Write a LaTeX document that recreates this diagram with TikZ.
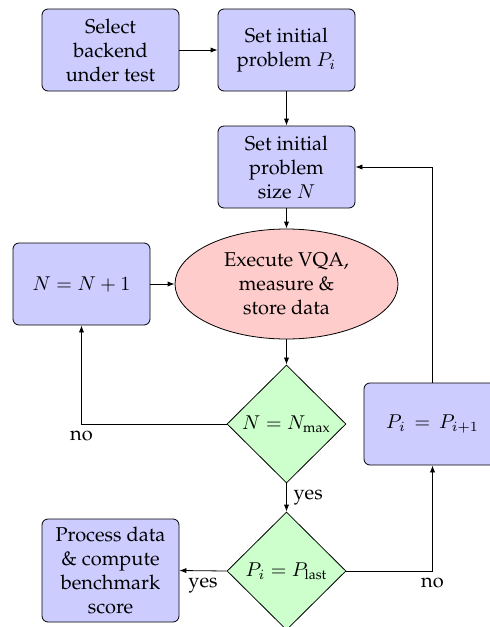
\documentclass[tikz,border=0pt]{standalone}
\usepackage[T1]{fontenc}
\usepackage{palatino}
\usepackage{amsmath}
\usetikzlibrary{shapes.geometric,arrows.meta}
\tikzset{
  procbox/.style={rectangle, rounded corners=3pt, draw=black, fill=blue!20, minimum width=68.5pt, minimum height=41pt, align=center, inner sep=2pt},
  execell/.style={ellipse, draw=black, fill=red!20, minimum width=111.5pt, minimum height=55pt, align=center, inner sep=0pt},
  decision/.style={diamond, draw=black, fill=green!20, minimum width=59.5pt, minimum height=59pt, inner sep=0pt, align=center},
  flow/.style={draw=black, line width=0.4pt, -{Latex[length=3.5pt,width=2.6pt]}},
}
\begin{document}
\begin{tikzpicture}[x=0.5pt,y=-0.5pt]
\clip (0,0) rectangle (490,627);
\node[procbox] (sel) at (110.5,50) {Select\\backend\\under test};
\node[procbox] (pi) at (286.5,50) {Set initial\\problem $P_i$};
\node[procbox] (size) at (286.5,167) {Set initial\\problem\\size $N$};
\node[execell] (exec) at (286.5,284) {Execute VQA,\\measure \&\\store data};
\node[procbox] (inc) at (81.5,284) {$N = N + 1$};
\node[decision] (d1) at (286.5,424) {$N = N_{\text{max}}$};
\node[procbox] (next) at (432.5,424) {$P_i\, =\, P_{i+1}$};
\node[decision] (d2) at (286.5,571) {$P_i = P_{\text{last}}$};
\node[procbox, minimum height=51.5pt] (proc) at (110.5,570.5) {Process data\\\& compute\\benchmark\\score};
\draw[flow] (sel) -- (pi);
\draw[flow] (pi) -- (size);
\draw[flow] (size) -- (exec);
\draw[flow] (inc) -- (exec);
\draw[flow] (exec) -- (d1);
\draw[flow] (d1.west) -| coordinate (c1) (inc.south);
\node[below=0pt] (nolab1) at (c1) {no};
\draw[flow] (d1.south) -- node[right=0pt] (yes1) {yes} (d2.north);
\draw[flow] (d2.west) -- node[pos=0.5, below=0pt] (yes2) {yes} (proc.east);
\draw[flow] (d2.east) -| coordinate (c2) (next.south);
\node[below=0pt] (nolab2) at (c2) {no};
\draw[flow] (next.north) |- (size.east);
\end{tikzpicture}
\end{document}
